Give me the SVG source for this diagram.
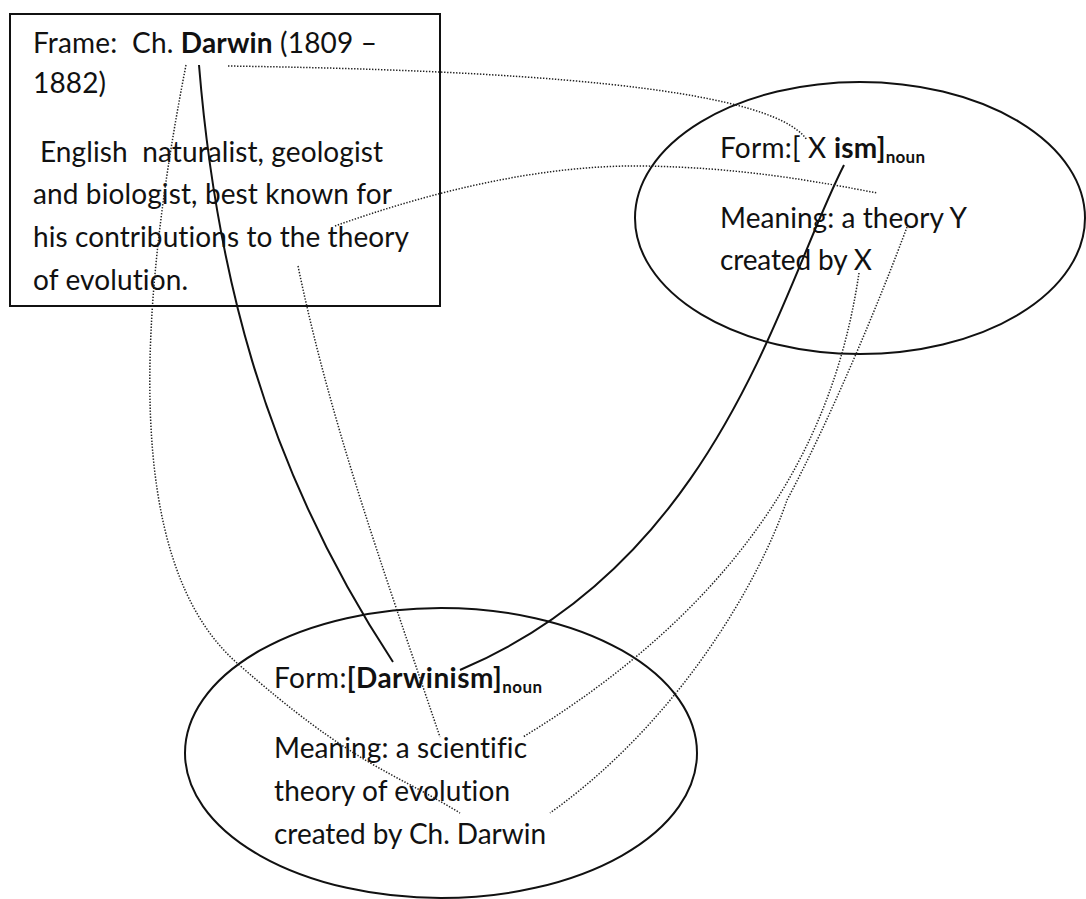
<svg xmlns="http://www.w3.org/2000/svg" width="1086" height="899" viewBox="0 0 1086 899">
<style>
text{font-family:Lato,"Open Sans","Liberation Sans",sans-serif;font-size:28px;fill:#111;white-space:pre;font-variant-ligatures:none}
.b{font-weight:bold}
.sub{font-weight:bold;font-size:17px}
.node{fill:none;stroke:#111;stroke-width:2}
.solid{fill:none;stroke:#111;stroke-width:2}
.dot{fill:none;stroke:#222;stroke-width:1.5;stroke-dasharray:1.4 1.6}
</style>
<rect width="1086" height="899" fill="#fff"/>
<g id="frame">
<rect class="node" x="10" y="14" width="430" height="292" stroke-width="2.5"/>
<text x="33" y="53" textLength="344">Frame:  Ch. <tspan class="b">Darwin</tspan> (1809 –</text>
<text x="33" y="93" textLength="73">1882)</text>
<text x="40" y="162" textLength="343">English  naturalist, geologist</text>
<text x="33" y="204" textLength="359">and biologist, best known for</text>
<text x="33" y="247" textLength="376">his contributions to the theory</text>
<text x="33" y="290" textLength="155">of evolution.</text>
</g>
<g id="ism">
<ellipse class="node" cx="860" cy="218" rx="225" ry="136"/>
<text x="720" y="158" textLength="205">Form:[ X <tspan class="b">ism]</tspan><tspan class="sub" dy="5">noun</tspan></text>
<text x="720" y="228" textLength="247">Meaning: a theory Y</text>
<text x="720" y="270" textLength="152">created by X</text>
</g>
<g id="darwinism">
<ellipse class="node" cx="441" cy="753" rx="256" ry="145"/>
<text x="274" y="688" textLength="268">Form:<tspan class="b">[Darwinism]</tspan><tspan class="sub" dy="5">noun</tspan></text>
<text x="274" y="758" textLength="253">Meaning: a scientific</text>
<text x="274" y="801" textLength="236">theory of evolution</text>
<text x="274" y="844" textLength="272">created by Ch. Darwin</text>
</g>
<g id="connectors">
<path class="solid" d="M199,65 C215,260 260,460 393,662"/>
<path class="solid" d="M844,165 C780,290 720,560 460,670"/>
<path class="dot" d="M228,66 C500,70 770,85 807,140"/>
<path class="dot" d="M335,226 C430,192 540,165 640,166 S820,182 877,193"/>
<path class="dot" d="M186,65 C140,300 120,560 237,663 S390,770 460,813"/>
<path class="dot" d="M298,266 C330,420 380,560 440,737"/>
<path class="dot" d="M859,273 C840,400 780,580 523,737"/>
<path class="dot" d="M907,227 C880,300 830,420 787,500 C760,580 680,720 550,813"/>
</g>
</svg>
